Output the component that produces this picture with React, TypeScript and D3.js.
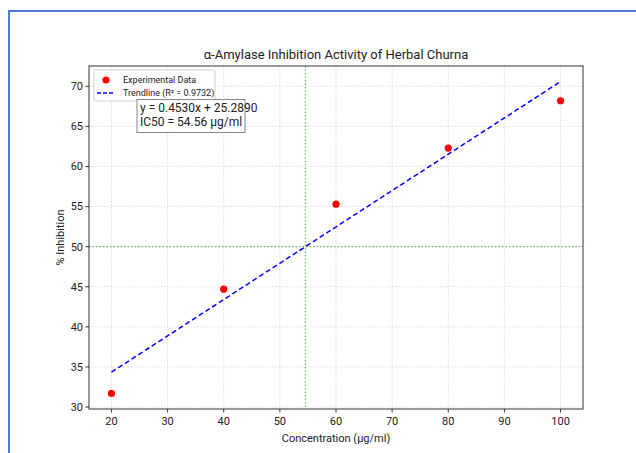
import * as d3 from "d3";

const concentrations = [20, 40, 60, 80, 100];
const inhibition = [31.7, 44.7, 55.3, 62.3, 68.2];
const xTicks = [20, 30, 40, 50, 60, 70, 80, 90, 100];
const yTicks = [30, 35, 40, 45, 50, 55, 60, 65, 70];
const slope = 0.453;
const intercept = 25.289;
const ic50 = 54.56;
const r2 = 0.9732;

const W = 636;
const H = 453;
const M = { top: 66, right: 53, bottom: 44, left: 89 };
const FONT = "Roboto, 'Open Sans', sans-serif";

export default function App() {
  const innerW = W - M.left - M.right;
  const innerH = H - M.top - M.bottom;
  const x = d3.scaleLinear().domain([16, 104]).range([0, innerW]);
  const y = d3.scaleLinear().domain([29.76, 72.53]).range([innerH, 0]);
  const trend = d3
    .line<number>()
    .x((d) => x(d))
    .y((d) => y(slope * d + intercept))([20, 100]);

  return (
    <svg
      width={W}
      height={H}
      style={{ position: "absolute", left: 0, top: 0, background: "#fff" }}
      fontFamily={FONT}
    >
      {/* frame from the screenshot */}
      <path d={`M9,${H} V11 H${W}`} fill="none" stroke="#4a7dd6" strokeWidth={2} />

      <text x={M.left + innerW / 2} y={59} textAnchor="middle" fontSize={13} fill="#222">
        α-Amylase Inhibition Activity of Herbal Churna
      </text>

      <g transform={`translate(${M.left},${M.top})`}>
        {/* grid */}
        {xTicks.map((t) => (
          <line key={"gx" + t} x1={x(t)} x2={x(t)} y1={0} y2={innerH}
            stroke="#d4d4d4" strokeWidth={0.8} strokeDasharray="1.5,1.5" />
        ))}
        {yTicks.map((t) => (
          <line key={"gy" + t} x1={0} x2={innerW} y1={y(t)} y2={y(t)}
            stroke="#d4d4d4" strokeWidth={0.8} strokeDasharray="1.5,1.5" />
        ))}

        {/* reference lines */}
        <line x1={x(ic50)} x2={x(ic50)} y1={0} y2={innerH}
          stroke="#3fa03f" strokeOpacity={0.75} strokeWidth={1.3} strokeDasharray="1.5,2" />
        <line x1={0} x2={innerW} y1={y(50)} y2={y(50)}
          stroke="#3fa03f" strokeOpacity={0.75} strokeWidth={1.3} strokeDasharray="1.5,2" />

        {/* trendline */}
        <path d={trend ?? ""} fill="none" stroke="#0000ff" strokeWidth={1.5} strokeDasharray="5,3" />

        {/* points */}
        {concentrations.map((c, i) => (
          <circle key={c} cx={x(c)} cy={y(inhibition[i])} r={3.6} fill="#ff0000" />
        ))}

        {/* axes */}
        <rect x={0} y={0} width={innerW} height={innerH} fill="none" stroke="#333" strokeWidth={1} />
        {xTicks.map((t) => (
          <g key={"tx" + t}>
            <line x1={x(t)} x2={x(t)} y1={innerH} y2={innerH + 3.5} stroke="#333" />
            <text x={x(t)} y={innerH + 16} textAnchor="middle" fontSize={11} fill="#222">{t}</text>
          </g>
        ))}
        {yTicks.map((t) => (
          <g key={"ty" + t}>
            <line x1={-3.5} x2={0} y1={y(t)} y2={y(t)} stroke="#333" />
            <text x={-6} y={y(t)} dy="0.35em" textAnchor="end" fontSize={11} fill="#222">{t}</text>
          </g>
        ))}

        {/* legend */}
        <rect x={5} y={4} width={121} height={31} rx={2} fill="#fff" fillOpacity={0.85}
          stroke="#d0d0d0" strokeWidth={1} />
        <circle cx={17} cy={14} r={3.6} fill="#ff0000" />
        <text x={34} y={14} dy="0.35em" fontSize={9} fill="#222">Experimental Data</text>
        <line x1={8} x2={26} y1={27} y2={27} stroke="#0000ff" strokeWidth={1.5} strokeDasharray="4,2" />
        <text x={34} y={27} dy="0.35em" fontSize={9} fill="#222">
          Trendline (R² = {r2.toFixed(4)})
        </text>

        {/* equation box */}
        <rect x={48} y={33.5} width={108} height={33} fill="#fff" fillOpacity={0.9}
          stroke="#888" strokeWidth={1} />
        <text x={51} y={41.7} dy="0.35em" fontSize={12} fill="#222">
          y = {slope.toFixed(4)}x + {intercept.toFixed(4)}
        </text>
        <text x={51} y={55.7} dy="0.35em" fontSize={12} fill="#222">
          IC50 = {ic50.toFixed(2)} µg/ml
        </text>
      </g>

      <text x={M.left + innerW / 2} y={442} textAnchor="middle" fontSize={11} fill="#222">
        Concentration (µg/ml)
      </text>
      <text transform={`translate(64,${M.top + innerH / 2}) rotate(-90)`} textAnchor="middle"
        fontSize={11} fill="#222">
        % Inhibition
      </text>
    </svg>
  );
}
